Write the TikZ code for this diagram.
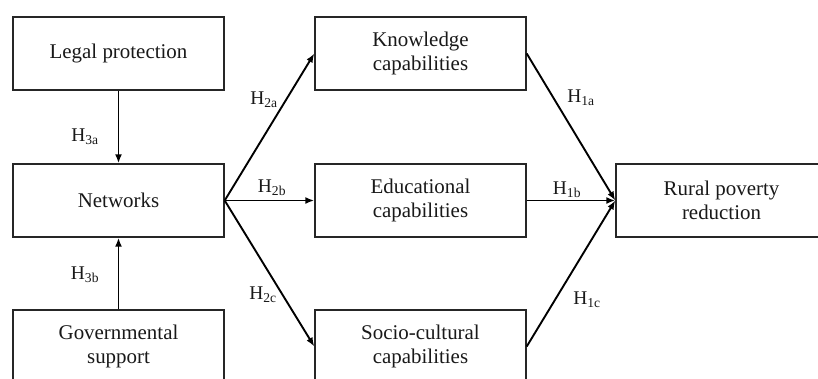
\documentclass[tikz,border=0pt]{standalone}
\usepackage{fontspec}
\setmainfont{Liberation Serif}
\usetikzlibrary{arrows.meta}
\tikzset{
  box/.style={draw=black!85, line width=1.4pt, minimum width=211bp, minimum height=73bp, inner sep=0pt, align=center, font=\fontsize{21}{24}\selectfont, text=black!90},
  conn/.style={line width=1.9pt, -{Latex[length=9bp,width=7bp]}},
  hlab/.style={font=\fontsize{19.5}{22}\selectfont, inner sep=0pt, text=black!90}
}
\newcommand{\hyp}[2]{H\textsubscript{#1#2}}
\begin{document}
\begin{tikzpicture}[x=1bp,y=-1bp]
\clip (0,0) rectangle (818,378);
\fill[white] (0,0) rectangle (818,378);
\node[box] (legal) at (118.5,53.5) {Legal protection};
\node[box] (net) at (118.5,200.5) {Networks};
\node[box] (gov) at (118.5,346.5) {Governmental\\support};
\node[box] (know) at (420.5,53.5) {Knowledge\\capabilities};
\node[box] (edu) at (420.5,200.5) {Educational\\capabilities};
\node[box] (soc) at (420.5,346.5) {Socio-cultural\\capabilities};
\node[box] (rur) at (721.5,200.5) {Rural poverty\\reduction};
\draw[conn] (legal) -- (net);
\draw[conn] (gov) -- (net);
\draw[conn] (net.east) -- (know.west);
\draw[conn] (net.east) -- (edu.west);
\draw[conn] (net.east) -- (soc.west);
\draw[conn] (know.east) -- (rur.west);
\draw[conn] (edu.east) -- (rur.west);
\draw[conn] (soc.east) -- (rur.west);
\node[hlab] (h3a) at (85,137) {\hyp{3}{a}};
\node[hlab] (h3b) at (85,275) {\hyp{3}{b}};
\node[hlab] (h2a) at (264,100) {\hyp{2}{a}};
\node[hlab] (h2b) at (272,188) {\hyp{2}{b}};
\node[hlab] (h2c) at (263,295) {\hyp{2}{c}};
\node[hlab] (h1a) at (581,98) {\hyp{1}{a}};
\node[hlab] (h1b) at (567,190) {\hyp{1}{b}};
\node[hlab] (h1c) at (587,300) {\hyp{1}{c}};
\end{tikzpicture}
\end{document}
